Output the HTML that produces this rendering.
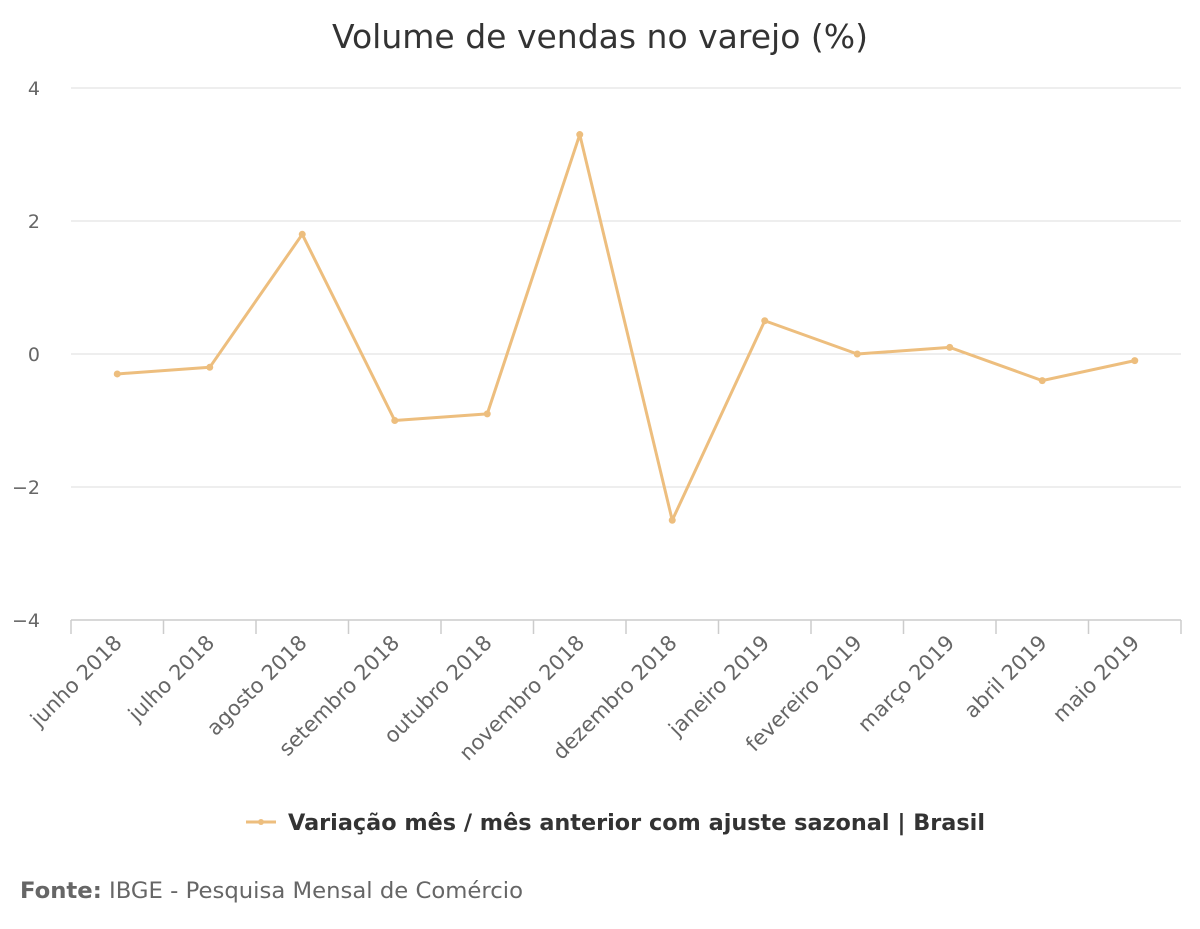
<!DOCTYPE html>
<html><head><meta charset="utf-8"><style>
html,body{margin:0;padding:0;background:#fff;}
svg{display:block;font-family:"DejaVu Sans","Liberation Sans",sans-serif;}
</style></head><body>
<svg id="chart" width="1200" height="929">
<text x="600" y="48" text-anchor="middle" font-size="33" fill="#333">Volume de vendas no varejo (%)</text>
<g id="grid"></g><g id="xaxis"></g><g id="series"></g>
<g>
<line x1="246" y1="822" x2="276" y2="822" stroke="#EDBE7E" stroke-width="3"/>
<circle cx="261" cy="822" r="3" fill="#EDBE7E"/>
<text x="288" y="830" font-size="22" font-weight="bold" fill="#333" textLength="697" lengthAdjust="spacingAndGlyphs">Variação mês / mês anterior com ajuste sazonal | Brasil</text>
</g>
<text x="20" y="898" font-size="22" fill="#666" textLength="503" lengthAdjust="spacingAndGlyphs"><tspan font-weight="bold">Fonte:</tspan> IBGE - Pesquisa Mensal de Comércio</text>
</svg>
<script>
const categories=["junho 2018","julho 2018","agosto 2018","setembro 2018","outubro 2018","novembro 2018","dezembro 2018","janeiro 2019","fevereiro 2019","março 2019","abril 2019","maio 2019"];
const values=[-0.3,-0.2,1.8,-1.0,-0.9,3.3,-2.5,0.5,0.0,0.1,-0.4,-0.1];
const yTicks=[-4,-2,0,2,4];
const NS="http://www.w3.org/2000/svg";
const L=71,R=1181,T=88,B=620;
const y=v=>B-(v+4)/8*(B-T);
const bw=(R-L)/categories.length;
const x=i=>L+bw*(i+0.5);
function mk(tag,attrs,parent){const e=document.createElementNS(NS,tag);for(const k in attrs)e.setAttribute(k,attrs[k]);parent.appendChild(e);return e;}
const grid=document.getElementById('grid');
yTicks.forEach(t=>{
  if(t>-4){const g=mk('line',{x1:L,x2:R,y1:y(t),y2:y(t),stroke:'#dcdcdc','stroke-width':1},grid);
  
  }
  const tx=mk('text',{x:40,y:y(t)+7,'text-anchor':'end','font-size':19,fill:'#666'},grid);
  tx.textContent=t<0?'−'+Math.abs(t):String(t);
  
  
});
const xa=document.getElementById('xaxis');
const ax=mk('line',{x1:L,x2:R,y1:B,y2:B,stroke:'#ccc','stroke-width':1.5},xa);


for(let i=0;i<=categories.length;i++){
  const tk=mk('line',{x1:L+bw*i,x2:L+bw*i,y1:B,y2:B+14,stroke:'#ccc','stroke-width':1.5},xa);
  
  
}
categories.forEach((c,i)=>{
  const px=x(i)+6,py=B+24;
  const t=mk('text',{x:px,y:py,'text-anchor':'end','font-size':21,fill:'#666',transform:`rotate(-45 ${px} ${py})`},xa);
  t.textContent=c;
  
  
});
const s=document.getElementById('series');
const p=mk('polyline',{points:values.map((v,i)=>x(i)+','+y(v)).join(' '),fill:'none',stroke:'#EDBE7E','stroke-width':3,'stroke-linejoin':'round'},s);


values.forEach((v,i)=>{
  const c=mk('circle',{cx:x(i),cy:y(v),r:3.5,fill:'#EDBE7E'},s);
  
  
});
</script>
</body></html>
